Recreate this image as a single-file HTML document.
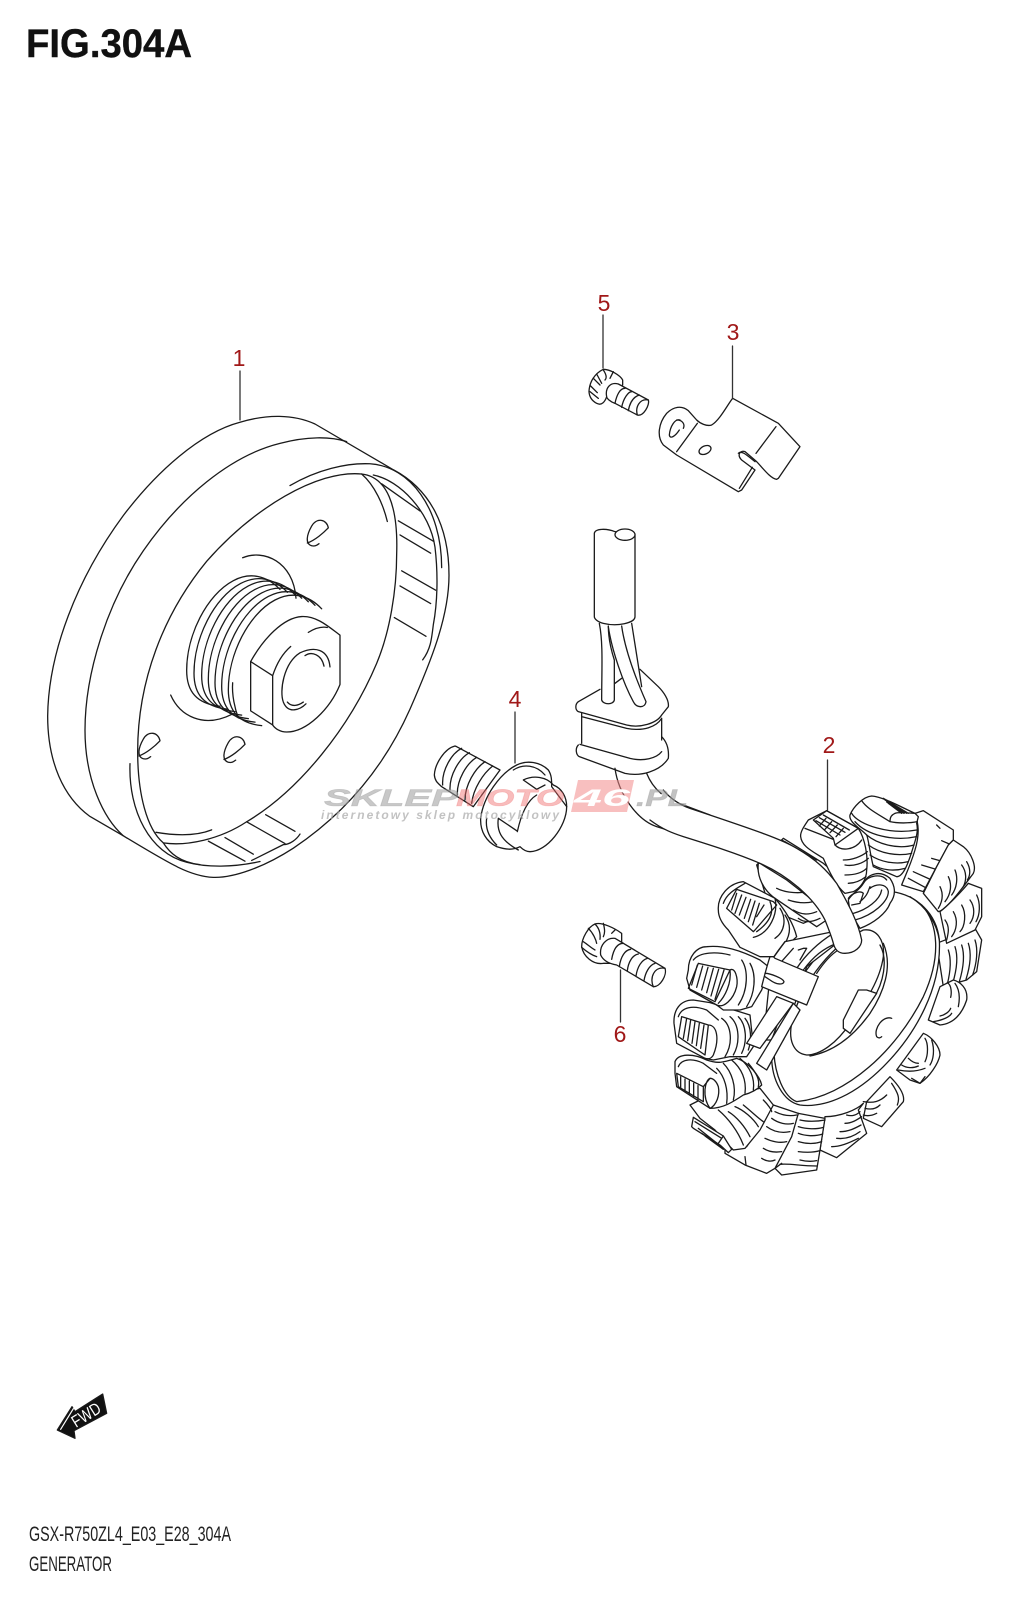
<!DOCTYPE html>
<html><head><meta charset="utf-8"><title>FIG.304A</title>
<style>
html,body{margin:0;padding:0;background:#fff}
svg{display:block}
path,ellipse,line{vector-effect:non-scaling-stroke;stroke-width:1.3;stroke:#1a1a1a;fill:none;stroke-linecap:round;stroke-linejoin:round}
.w{fill:#fff}
.l{stroke:#333;stroke-width:1.3}
text{font-family:"Liberation Sans",sans-serif}
.n{font-size:23px;fill:#a01818;text-anchor:middle}
</style></head><body>
<svg width="1016" height="1600" viewBox="0 0 1016 1600" xmlns="http://www.w3.org/2000/svg">
<rect width="1016" height="1600" fill="#fff"/>
<defs>
<path id="th" d="M840 720C800 680 750 670 700 695C620 735 560 850 560 950C560 1010 590 1045 660 1052"/>
<g id="hole"><path d="M985 545C980 520 950 515 935 540C920 565 915 590 935 596C945 598 950 595 957 590M985 545C970 560 945 580 922 588"/></g>
</defs>

<!-- title -->
<text x="26" y="57" font-size="40" font-weight="700" fill="#111" stroke="#111" stroke-width=".4" textLength="166" lengthAdjust="spacingAndGlyphs">FIG.304A</text>

<!-- flywheel -->
<g transform="translate(0,336) scale(.33333,.352)">
<path class="w" d="M370 1420L270 1365C190 1310 143 1210 143 1080C145 900 230 690 370 510C470 385 600 275 720 245C800 222 880 222 945 250L1180 380C1290 435 1347 540 1347 680C1347 800 1290 930 1230 1060C1150 1230 1030 1360 880 1455C790 1510 700 1540 640 1538C570 1535 510 1500 370 1420Z"/>
<path d="M1040 300C990 285 920 285 840 305C690 340 540 460 430 610C320 760 255 960 255 1120C255 1260 310 1370 370 1420"/>
<path d="M870 425C950 380 1040 360 1110 363C1230 370 1325 490 1325 658"/>
<path d="M390 1215C385 1350 450 1470 560 1495C620 1510 700 1510 780 1493"/>
<path d="M1190 620C1195 480 1160 400 1085 392C950 380 760 490 620 640C490 790 413 980 413 1180C413 1300 440 1400 490 1440C560 1450 660 1430 740 1380C900 1290 1050 1110 1130 930C1170 840 1190 720 1190 620Z"/>
<path d="M1120 395C1200 410 1290 500 1305 600C1315 680 1312 760 1300 820C1295 860 1292 890 1268 920"/>
<path d="M1085 392C1125 425 1150 480 1162 527"/>
<path d="M1145 420L1260 497M1195 525L1300 583M1200 565L1292 617M1205 667L1307 722M1200 710L1292 760M1183 800L1278 853"/>
<path d="M468 1410C530 1420 590 1420 635 1403M625 1435L735 1492M675 1425L760 1472M740 1380L855 1442M797 1360L885 1407M755 1490L850 1445C870 1445 890 1430 900 1415"/>
<path d="M490 1440C510 1470 540 1495 600 1502"/>
<path d="M728 630C790 605 880 640 888 745M512 1020C540 1080 610 1115 695 1075"/>
<use href="#th"/>
<use href="#th" transform="translate(22,8)"/>
<use href="#th" transform="translate(45,15)"/>
<use href="#th" transform="translate(65,25)"/>
<use href="#th" transform="translate(85,35)"/>
<use href="#th" transform="translate(105,45)"/>
<use href="#th" transform="translate(125,55)"/>
<path d="M698 985C695 1020 705 1060 715 1085"/>
<path class="w" d="M752 925C790 860 850 800 905 797C950 795 985 825 1020 850L1020 990C990 1060 920 1125 860 1125C840 1125 825 1115 818 1105L752 1065Z"/>
<path d="M752 925L818 965L818 1105M818 965C830 930 850 900 872 882M925 842C945 830 965 825 982 828"/>
<path d="M990 940C985 890 945 880 900 900C850 930 838 1010 850 1040C865 1075 900 1062 918 1045M972 938C965 905 935 895 915 908M862 1040C875 1055 895 1050 910 1040"/>
<use href="#hole"/>
<use href="#hole" transform="translate(-250,615)"/>
<use href="#hole" transform="translate(-505,605)"/>
</g>

<!-- bracket + bolt 5 -->
<g transform="translate(560,280) scale(.33333)">
<path class="w" d="M518 355C505 370 480 420 455 435C440 440 420 430 410 420L385 392C365 375 340 380 320 400C295 430 290 470 310 495L350 525L535 635L545 630L585 570L545 540C530 525 540 510 555 515L590 545C605 560 630 595 650 598L655 595L720 500L655 430Z"/>
<path d="M412 430L350 515M648 440L588 520M577 562L538 625"/>
<path d="M360 420C345 415 330 440 328 465C330 478 345 470 358 450M350 420C370 420 375 435 370 445"/>
<ellipse cx="435" cy="510" rx="19" ry="12" transform="rotate(-25 435 510)"/>
<path d="M535 520C545 510 560 525 585 545"/>
<!-- bolt 5 -->
<path class="w" d="M87 335C88 305 105 280 130 268C150 268 180 285 188 300L188 315L140 350C135 365 125 378 110 370C95 362 88 350 87 335Z"/>
<path d="M100 295L120 315M130 270C140 285 140 295 135 300M90 335L115 355M160 275L150 295M110 282L125 310M92 318L112 338"/>
<path class="w" d="M140 350C135 325 150 305 175 312L265 360C270 375 250 410 232 405L165 370C150 365 140 355 140 350Z"/>
<path d="M165 370C170 345 180 325 195 325M185 382C190 355 205 335 215 335M205 392C210 365 222 350 238 345M232 405C225 380 240 355 265 360"/>
</g>

<!-- bolt 6 -->
<g transform="translate(560,900) scale(.33333)">
<path class="w" d="M65 140C65 115 85 80 105 72C125 65 165 85 185 100L185 125L170 190L130 190C100 195 70 170 65 140Z"/>
<path d="M85 85C100 100 108 120 110 130M105 72C118 85 122 100 120 118M130 70C135 90 135 100 130 110M70 125C85 135 95 145 105 150M165 90L155 100M65 142C80 155 95 165 110 170"/>
<path class="w" d="M122 165C118 135 140 112 165 115L185 127L315 205C322 225 300 262 280 260L170 195C140 190 128 178 122 165Z"/>
<path d="M155 178C160 150 170 130 190 130M178 200C182 170 195 150 212 148M202 212C205 185 218 165 235 162M228 228C232 200 245 180 262 175M252 242C256 218 268 195 285 190M280 260C268 235 282 198 315 205"/>
</g>

<!-- bolt 4 + connector -->
<g transform="translate(310,510) scale(.33333)">
<path class="w" d="M435 708C405 715 375 760 373 795C375 815 385 820 395 830L490 890L570 780L440 710Z"/>
<path d="M455 715C425 730 395 780 398 825M478 728C448 745 418 795 420 840M500 742C470 760 440 810 442 855M525 755C495 775 465 825 465 870M548 768C520 790 490 835 485 880"/>
<path class="w" d="M620 765C650 750 690 755 715 780C725 795 725 810 725 830L770 890C770 950 710 1025 660 1025C645 1025 635 1015 630 1010C610 1020 590 1020 560 1010C530 995 510 965 512 925C520 860 570 790 620 765Z"/>
<path d="M610 780C640 760 680 765 705 795M640 810L680 838L705 825M640 810C670 795 710 800 730 825M730 825C755 835 770 860 770 890M622 965C635 905 655 870 680 855"/>
<path d="M565 925C560 960 570 990 625 1020M565 925L620 962M530 925C525 960 540 985 560 1005"/>
<!-- wires -->
<path d="M868 340C880 400 875 480 875 570C880 585 910 585 913 570L913 450C900 410 895 380 895 348"/>
<path d="M895 350C905 420 940 520 970 575C980 595 1005 595 1008 575C975 500 945 420 935 348"/>
<path d="M965 340C975 400 985 470 995 530"/>
<path class="w" d="M853 70C855 55 890 55 915 65L975 74L975 320C975 340 920 350 880 340C860 335 853 325 853 320Z"/>
<ellipse class="w" cx="945" cy="74" rx="30" ry="17"/>
<path d="M870 538L805 575C795 582 795 600 805 605L950 645C990 655 1040 640 1055 615L1075 590C1078 570 1060 545 1045 530L990 478M915 520L935 505"/>
<path d="M815 610L815 700M1055 625L1055 690M815 620L950 655C1000 665 1040 650 1055 625"/>
<path d="M805 705C795 715 798 735 808 740L945 790C990 800 1050 785 1075 745C1078 710 1065 690 1055 680M810 703L960 745C1000 755 1040 745 1055 725"/>
<path d="M915 775C925 850 980 930 1040 950L1200 1000M1010 790C1030 840 1070 870 1120 885L1200 915"/>
</g>

<!-- ===== stator ===== -->
<!-- back strip -->
<g transform="translate(650,780) scale(.33333)">
<path class="w" d="M320 255L400 175L520 250L640 350L460 430L360 390Z"/>
<path d="M395 180L500 240M405 185L490 235"/>
<!-- right coil 4 -->
<path class="w" d="M975 445L995 480L980 575L950 600L880 620L860 490Z"/>
<path d="M975 480C985 510 980 550 968 585M955 490C965 520 960 560 948 598M935 495C945 525 940 565 928 605M915 500C925 530 920 570 908 610M895 510C905 540 900 580 892 612"/>
</g>
<!-- right & top coils -->
<g transform="translate(780,780) scale(.33333)">
<path class="w" d="M405 100L430 92L520 150L520 180L505 195L470 260L430 335L365 315C370 300 390 260 405 210C420 160 415 130 405 100Z"/>
<path d="M470 135L480 145M485 182L508 192M455 235L490 245M425 255L475 270M400 275L455 300M385 295L435 322"/>
<path class="w" d="M520 180L550 200C575 220 590 260 580 280C550 320 500 390 475 395L430 340L470 260L505 195Z"/>
<path d="M560 245C572 265 572 285 562 300M545 255C560 275 560 300 550 320M525 270C535 295 530 325 515 345M505 290C515 310 515 340 495 365M480 320C490 340 490 360 475 385"/>
<path class="w" d="M565 310L605 325L605 410L585 450L500 490L480 395C500 380 540 340 565 310Z"/>
<path d="M590 345C602 370 600 405 588 425M570 360C585 380 585 410 570 430M545 375C560 400 555 440 540 455M520 395C535 420 530 450 515 470M495 420C510 440 505 460 500 480"/>
<path class="w" d="M210 105C205 125 240 145 260 165C265 175 270 220 280 260L350 290C370 290 385 250 400 200C410 170 415 150 410 130L415 110L405 100C370 85 310 50 275 48C250 50 220 80 210 105Z"/>
<path d="M245 62C260 85 290 100 330 125C350 130 390 130 412 125M345 100C360 95 390 100 405 100M330 125C330 110 335 105 345 100M310 55L385 100M315 60L380 100M320 66L372 100M325 70L365 100"/>
<path d="M215 100C235 135 330 165 410 150M225 125C260 165 340 185 410 170M260 165C290 190 350 210 402 195M265 195C300 220 350 230 395 220M270 225C300 245 345 255 385 245M280 255C305 270 340 275 375 265"/>
<path class="w" d="M62 170C60 155 75 135 85 120L140 92L235 145C255 175 265 230 260 270C260 300 240 325 220 335L195 340C170 320 150 280 130 235C100 215 65 200 62 170Z"/>
<path d="M100 120L140 92L235 145L165 195L160 175ZM75 145L160 178M108 122L180 165M118 113L195 157M130 105L208 150M138 115L118 138M155 125L135 148M172 135L150 158M190 145L168 170"/>
<path d="M165 195C185 215 225 210 245 180M190 240C215 240 245 230 262 215M195 255C220 260 250 250 265 235M195 285C220 285 245 280 260 265M205 310C225 310 245 300 258 290"/>
</g>
<g transform="translate(860,940) scale(.33333)">
<path class="w" d="M240 140L280 120C300 125 325 145 320 180C310 210 290 250 240 255L205 240Z"/>
<path d="M262 128C275 135 275 160 272 172M285 130C300 150 300 175 295 200M220 245C250 240 270 230 275 220M240 228C255 225 268 215 272 205"/>
<path class="w" d="M190 280C215 290 240 320 240 345C235 370 210 410 180 430L150 420L110 390Z"/>
<path d="M195 295C205 310 205 345 195 365M215 300C225 330 220 360 210 375M115 390C140 395 170 395 195 385M125 375C140 385 160 385 175 378M145 355C155 365 165 370 175 370M155 415L180 430L195 410"/>
</g>
<!-- bottom coils -->
<g transform="translate(660,1030) scale(.33333)">
<path class="w" d="M690 140C720 170 735 195 730 215L665 290L610 265L620 215Z"/>
<path d="M610 215C640 220 660 215 680 195M695 160C715 190 720 205 712 225M615 235C635 240 650 235 660 225M610 255C625 260 640 255 650 250"/>
<path class="w" d="M610 220L595 240L620 310L530 383L480 360L495 260C540 260 590 240 610 220Z"/>
<path d="M560 255C575 260 590 255 600 245M555 280C575 280 590 270 605 260M540 305C565 305 585 295 603 285M530 325C555 328 580 320 600 305M515 350C540 350 565 340 595 325"/>
<path class="w" d="M415 250L495 265L480 360L470 420L365 435L345 415L380 340Z"/>
<path d="M420 270C440 275 470 275 495 270M415 290C440 298 470 298 490 292M415 310C435 318 465 320 488 312M415 335C440 342 465 342 485 335M415 365C440 368 460 368 480 362M420 390C440 395 455 395 470 392M365 400L345 415M360 403C390 400 420 408 470 408"/>
<path class="w" d="M340 225L415 250L395 320L345 415L320 430L255 405L195 370L195 360L260 350Z"/>
<path d="M345 245C365 255 385 260 410 255M335 265C355 280 380 285 400 280M320 290C340 305 365 310 390 305M315 325C335 335 360 340 380 335M310 355C325 365 345 368 365 365M305 385C320 395 335 395 345 390M255 380L258 405"/>
<path class="w" d="M90 225L120 210L300 175L340 225L300 300L255 355L220 360L195 335L165 300L120 265Z"/>
<path d="M225 230C250 240 280 265 295 290M250 225C275 245 295 265 310 275M205 245C230 260 255 290 270 320M175 240C205 265 235 305 250 345M310 210C325 225 335 240 335 245"/>
<path class="w" d="M95 290L100 262L190 318L215 358L205 368L180 345L100 295Z"/>
<path d="M105 275L185 325M190 318L175 340M115 295L190 355M125 310L185 350M135 318L190 358"/>
</g>

<!-- plate -->
<g transform="translate(650,780) scale(.33333)">
<path class="w" d="M725 335C800 345 860 400 868 480C875 620 800 760 700 860C620 940 530 985 450 975C400 965 365 900 365 830L370 700L600 400Z"/>
<path d="M815 375C865 430 875 530 820 650C740 810 590 950 440 965C400 950 375 880 372 820"/>
<path d="M780 350C830 380 860 430 868 480"/>
<!-- inner opening -->
<path class="w" d="M640 450C680 445 705 480 700 530C690 600 650 660 600 730C560 790 510 825 470 825C430 820 415 780 425 730C440 640 530 500 640 450Z"/>
<path d="M700 490C730 560 700 640 660 700C610 770 550 815 480 828M690 495C715 540 700 610 670 655"/>
<path class="w" d="M625 630L580 720L580 745L600 760L680 640L650 630Z"/>
<path d="M725 715C700 705 670 745 680 770C685 775 690 775 695 770"/>
<!-- L3 coil -->
<path class="w" d="M72 730C70 690 90 660 130 660L180 668L300 705L310 800L290 830L240 830L190 840L165 835L80 790Z"/>
<path d="M85 710C95 680 130 675 170 690L205 720M85 770L95 710L175 735L165 825ZM175 735C200 735 210 775 190 825C185 835 175 838 165 835"/>
<path d="M100 775L110 715M113 782L122 720M126 790L135 725M139 797L148 730M152 805L162 735"/>
<path d="M215 715C245 735 250 790 225 830M240 710C270 735 270 790 250 825M265 710C290 735 292 785 275 820M285 715C305 740 305 780 295 810"/>
</g>
<!-- L4 + bottom left -->
<g transform="translate(660,1030) scale(.33333)">
<path class="w" d="M45 95C55 70 100 70 140 90C170 100 180 100 230 85C265 95 300 140 305 165C290 180 270 190 250 195C220 215 190 235 150 235L50 170L45 130Z"/>
<path d="M50 130L130 170L130 215L55 170ZM62 140L62 175M75 147L75 185M88 153L88 192M101 160L101 200M114 167L114 208"/>
<path d="M55 110C65 85 100 85 130 100L170 130M150 145C135 150 125 200 150 235C170 225 180 195 175 170C170 155 160 145 150 145M130 170L150 145"/>
<path d="M170 115C195 140 205 180 200 220M190 100C215 125 230 170 220 210M215 90C245 115 260 150 255 190M240 85C270 110 285 145 280 180M265 100C290 130 300 150 295 170"/>
</g>
<!-- L1, L2 + strap -->
<g transform="translate(660,860) scale(.33333)">
<path class="w" d="M295 10C290 50 310 90 345 115L470 200L500 180L470 130L380 60L300 10Z"/>
<path d="M350 85C380 100 420 100 445 95M385 120C415 130 440 130 460 125M400 150C425 165 445 165 470 155M415 175C435 190 460 185 480 175"/>
<path class="w" d="M175 150C172 110 205 70 250 65L345 115C375 150 400 190 410 230L345 290L300 290L240 262L205 210C185 190 175 170 175 150Z"/>
<path d="M200 145L230 88L340 125L350 135L285 210L280 215ZM190 130C200 100 230 85 255 70"/>
<path d="M230 100L215 150M245 105L225 160M258 112L238 165M272 118L253 175M285 123L265 185M298 130L278 195M312 135L290 170"/>
<path d="M345 115C355 160 330 220 280 232M330 125C345 160 325 190 290 215M360 145C380 175 375 215 345 235M375 165C395 195 390 225 375 250"/>
<path class="w" d="M85 330C85 290 110 260 140 260C190 255 240 270 300 300L325 320L320 345L305 390L275 440L240 450L190 450L170 435L90 390L80 355Z"/>
<path d="M85 385L115 310L210 330L165 425ZM100 300C120 275 170 275 210 285"/>
<path d="M112 315L95 375M128 318L110 382M144 322L125 390M160 325L140 398M176 328L153 408M192 330L165 418"/>
<path d="M210 330C225 320 235 355 230 380C220 420 190 445 170 435M210 330C215 370 195 410 175 430M245 300C265 330 265 390 235 435M270 310C290 345 285 400 260 440"/>
<!-- wires -->
<path class="w" d="M375 245L335 300L310 540L370 540L440 320L530 250L520 215Z"/>
<path d="M375 245C355 270 345 285 335 300M400 265L360 310M415 270L430 265L440 265L420 300M410 325C440 280 480 245 520 220M430 330C460 290 490 265 530 250M470 340C490 310 510 285 535 270"/>
<path d="M345 420L310 540M375 430L335 540M400 440L370 540"/>
</g>
<g transform="translate(650,780) scale(.33333)">
<path class="w" d="M380 650L290 790L330 805L430 670Z"/>
<path class="w" d="M430 670L320 850L350 870L450 690Z"/>
</g>
<g transform="translate(660,860) scale(.33333)">
<path class="w" d="M340 290L330 290C320 320 315 340 305 380L440 435L475 350L345 295Z"/>
<path d="M315 340C330 340 370 355 372 365C370 375 350 375 330 360L315 350"/>
</g>
<!-- loops -->
<g transform="translate(780,780) scale(.33333)">
<path class="w" d="M205 360C215 340 240 330 250 310C265 280 300 270 330 295C350 325 345 350 330 370C320 400 280 430 240 445L210 395Z"/>
<path d="M270 325C290 310 320 310 325 335C325 365 280 405 225 420M240 365C265 345 265 330 270 320M205 355C215 340 240 330 250 340L240 370L215 375M220 400C260 390 300 360 305 330M250 310C265 285 305 280 320 300"/>
</g>
<!-- main cable -->
<g transform="translate(650,780) scale(.33333)">
<path class="w" style="stroke:none" d="M0 120C40 150 70 160 100 170C180 195 260 220 330 250C410 285 490 350 525 420C535 445 545 470 550 490C555 510 565 520 585 520C615 520 635 500 635 480C625 430 600 380 560 310C530 270 500 240 440 205C400 180 330 155 120 85C90 75 60 55 40 30Z"/>
<path d="M0 120C40 150 70 160 100 170C180 195 260 220 330 250C410 285 490 350 525 420C535 445 545 470 550 490C555 510 565 520 585 520C615 520 635 500 635 480C625 430 600 380 560 310C530 270 500 240 440 205C400 180 330 155 120 85C90 75 60 55 40 30"/>
</g>

<!-- leaders -->
<path class="l" d="M240 371V420M603 315V368M732.5 346V398M515 712V763M827.5 760V810M620.5 970V1022"/>

<!-- labels -->
<text class="n" x="239" y="366">1</text>
<text class="n" x="604" y="311">5</text>
<text class="n" x="733" y="340">3</text>
<text class="n" x="515" y="707">4</text>
<text class="n" x="829" y="753">2</text>
<text class="n" x="620" y="1042">6</text>

<!-- FWD -->
<g transform="translate(0,1370) scale(.33333)">
<path d="M172 180L216 110L225 125L308 72L320 130L222 182L225 205Z" style="fill:#111"/>
<path d="M182 178L220 116" style="stroke:#fff;stroke-width:1.2"/>
</g>
<text transform="translate(76,1428) rotate(-32)" font-size="17" fill="#fff" textLength="31" lengthAdjust="spacingAndGlyphs">FWD</text>

<!-- footer -->
<text x="29" y="1541" font-size="21" fill="#222" textLength="202" lengthAdjust="spacingAndGlyphs">GSX-R750ZL4_E03_E28_304A</text>
<text x="29" y="1571" font-size="21" fill="#222" textLength="83" lengthAdjust="spacingAndGlyphs">GENERATOR</text>

<!-- watermark -->
<g font-weight="700" font-style="italic">
<text x="324" y="806" font-size="24" fill="#9a9a9a" fill-opacity=".55" stroke="#9a9a9a" stroke-opacity=".4" stroke-width=".6" textLength="134" lengthAdjust="spacingAndGlyphs">SKLEP</text>
<text x="456" y="806" font-size="24" fill="#f06a6a" fill-opacity=".45" stroke="#f06a6a" stroke-opacity=".3" stroke-width=".6" textLength="108" lengthAdjust="spacingAndGlyphs">MOTO</text>
<path d="M578 780H634L627 812H571Z" style="fill:#f28a8a;fill-opacity:.55;stroke:none"/>
<text x="574" y="806" font-size="24" fill="#fff" textLength="56" lengthAdjust="spacingAndGlyphs">46</text>
<text x="636" y="806" font-size="24" fill="#9a9a9a" fill-opacity=".6" stroke="#9a9a9a" stroke-opacity=".4" stroke-width=".6" textLength="52" lengthAdjust="spacingAndGlyphs">.PL</text>
<text x="321" y="819" font-size="12" fill="#a8a8a8" fill-opacity=".7" textLength="238" lengthAdjust="spacing">internetowy sklep motocyklowy</text>
</g>
</svg>
</body></html>
